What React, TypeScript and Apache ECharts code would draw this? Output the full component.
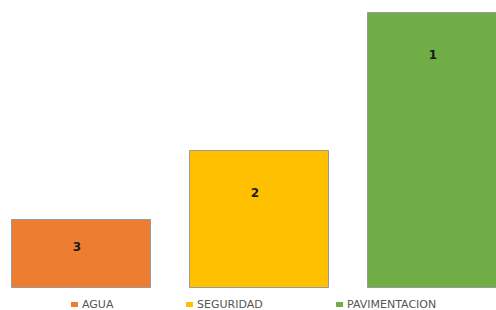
import React, { useEffect, useRef } from "react";
import * as echarts from "echarts";

const categories = ["AGUA", "SEGURIDAD", "PAVIMENTACION"];
const values = [1, 2, 4];
const rankLabels = ["3", "2", "1"];
const colors = ["#ED7D31", "#FFC000", "#70AD47"];
const labelOffsets = [28, 43, 43];
const legendLefts = [71, 186, 336];

export default function App() {
  const ref = useRef<HTMLDivElement>(null);
  useEffect(() => {
    if (!ref.current) return;
    const chart = echarts.init(ref.current, null, { renderer: "svg" });
    const series = categories.map((name, i) => ({
      name,
      type: "bar",
      stack: "all",
      barWidth: 140,
      data: categories.map((_, j) => (j === i ? values[i] : "-")),
      itemStyle: { color: colors[i], borderColor: "#9a9a9a", borderWidth: 1 },
      label: {
        show: true,
        position: ["50%", labelOffsets[i]],
        offset: [-4, 0],
        align: "center",
        verticalAlign: "middle",
        formatter: () => rankLabels[i],
        fontSize: 12,
        fontWeight: "bold",
        color: "#1a1a1a",
        fontFamily: "DejaVu Sans",
      },
    }));
    const legends = categories.map((name, i) => ({
      left: legendLefts[i],
      top: 299,
      padding: 0,
      itemWidth: 7,
      itemHeight: 5,
      itemGap: 0,
      icon: "rect",
      itemStyle: { borderWidth: 0 },
      textStyle: { fontSize: 11, color: "#555555", fontFamily: "DejaVu Sans", padding: [0, 0, 0, -1] },
      data: [name],
    }));
    chart.setOption({
      animation: false,
      grid: { left: -8, width: 534, top: 12, bottom: 22, containLabel: false, outerBoundsMode: "none" },
      xAxis: {
        type: "category",
        data: categories,
        axisLine: { show: false },
        axisTick: { show: false },
        axisLabel: { show: false },
      },
      yAxis: {
        type: "value",
        min: 0,
        max: 4,
        show: false,
        splitLine: { show: false },
      },
      legend: legends,
      series,
    });
    return () => chart.dispose();
  }, []);
  return <div ref={ref} style={{ width: 496, height: 310, position: "absolute", left: 0, top: 0 }} />;
}
